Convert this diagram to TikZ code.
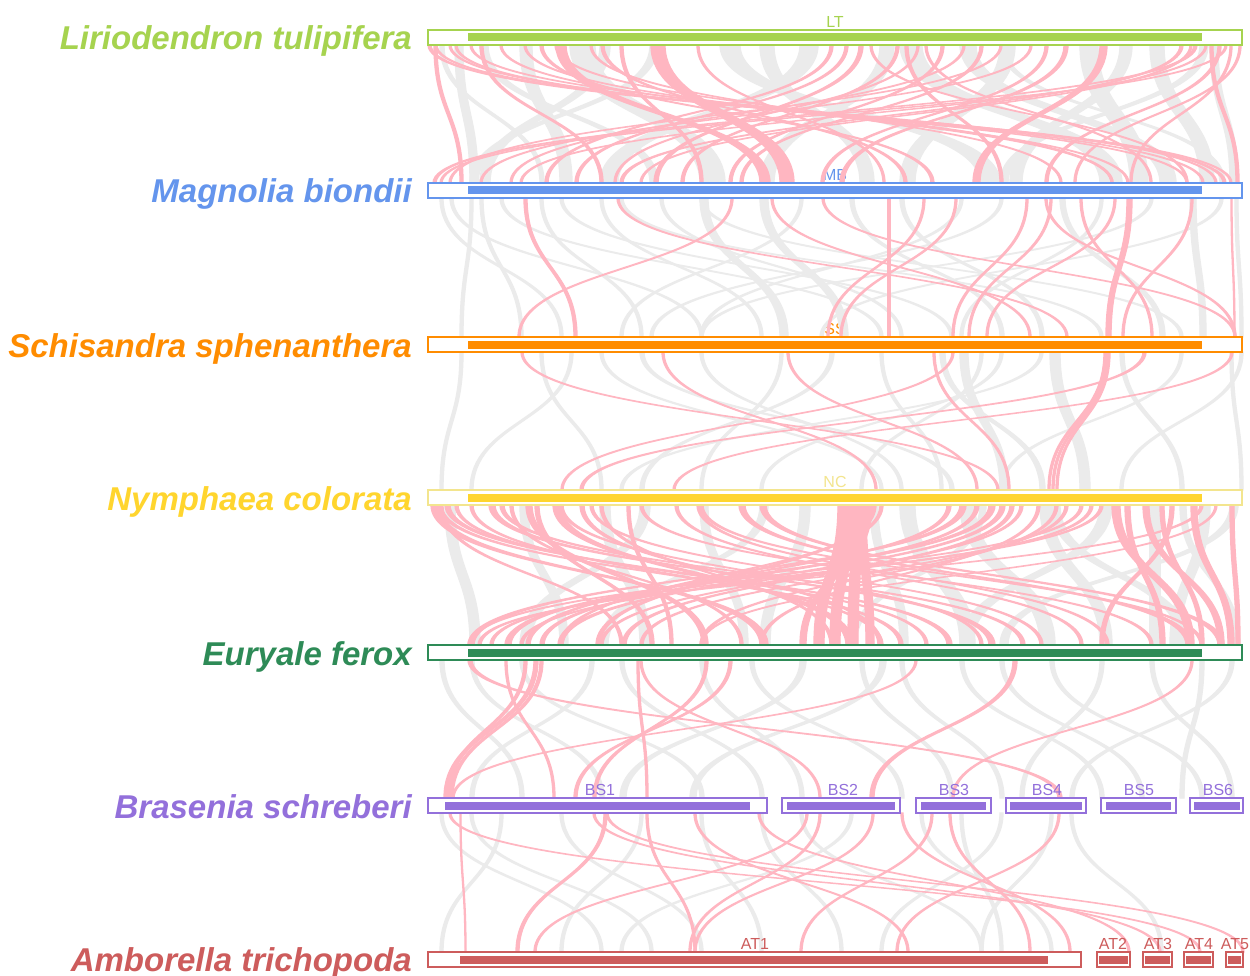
\documentclass[tikz,border=0pt]{standalone}
\usepackage{fontspec}
\setmainfont{Liberation Sans}
\definecolor{cLT}{HTML}{A6D34F}
\definecolor{cMB}{HTML}{6495ED}
\definecolor{cSS}{HTML}{FF8C00}
\definecolor{cNC}{HTML}{FFD52E}
\definecolor{cNCl}{HTML}{F3E58E}
\definecolor{cEF}{HTML}{2E8B57}
\definecolor{cBS}{HTML}{9370DB}
\definecolor{cAT}{HTML}{CD5C5C}
\definecolor{pinkl}{HTML}{FFB6C1}
\definecolor{grayl}{HTML}{EBEBEB}
\newcommand\rib[5]{%
  \pgfmathsetmacro\ym{(#1+#2)/2}%
  \filldraw (#3,#1) .. controls (#3,\ym) and (#4,\ym) .. (#4,#2) -- ({#4+#5},#2) .. controls ({#4+#5},\ym) and ({#3+#5},\ym) .. ({#3+#5},#1) -- cycle;}
\newcommand\seg[9]{%
  \node[segbox, draw=#2, minimum width={#4-#3}] (#1) at ({(#3+#4)/2},{#7+7.5}) {};
  \fill[#2] (#5,#7+3.5) rectangle (#6,#7+11.5);
  \node[seglab, text=#2] (#1lab) at (#9,#7-2.5) {#8};}
\tikzset{
  species/.style={anchor=base east, font=\fontsize{33}{33}\selectfont\bfseries\itshape, inner sep=0},
  seglab/.style={anchor=base, font=\fontsize{16}{16}\selectfont, inner sep=0},
  segbox/.style={fill=white, line width=1.1pt, minimum height=15pt, inner sep=0, outer sep=0},
  graylink/.style={fill=grayl, draw=grayl, line width=1.3pt},
  pinklink/.style={fill=pinkl, draw=pinkl, line width=1.3pt},
}
\begin{document}
\begin{tikzpicture}[x=1pt,y=-1pt]
\useasboundingbox[fill=white] (0,0) rectangle (1250,976);
% species names
\node[species, text=cLT] (nLT) at (412,49.5) {Liriodendron tulipifera};
\node[species, text=cMB] (nMB) at (412,203) {Magnolia biondii};
\node[species, text=cSS] (nSS) at (412,357) {Schisandra sphenanthera};
\node[species, text=cNC] (nNC) at (412,510) {Nymphaea colorata};
\node[species, text=cEF] (nEF) at (412,665) {Euryale ferox};
\node[species, text=cBS] (nBS) at (412,818) {Brasenia schreberi};
\node[species, text=cAT] (nAT) at (412,971) {Amborella trichopoda};
% segment labels (under links)
\node[seglab, text=cLT] (lLT) at (835,27.5) {LT};
\node[seglab, text=cMB] (lMB) at (835,180.5) {MB};
\node[seglab, text=cSS] (lSS) at (835,334.5) {SS};
\node[seglab, text=cNCl] (lNC) at (835,487.5) {NC};
% ---------- gray links ----------
\begin{scope}[graylink]
\foreach \a/\b/\w in {455/470/8, 480/650/8, 520/560/12, 570/700/25, 600/480/10, 650/470/8, 720/980/20, 760/860/14, 800/600/18, 880/760/14, 900/1100/22, 960/1160/16, 1000/900/15, 1080/1130/18, 1120/1010/12, 1150/1200/14, 1200/1000/8, 1210/1230/8, 440/540/4, 1000/1220/5}
  {\rib{45}{183}{\a}{\b}{\w}}
\foreach \a/\b/\w in {440/560/3, 450/700/3, 470/460/3, 500/880/3, 540/640/3, 560/950/3, 600/760/3, 620/1100/3, 700/780/8, 700/1180/3, 760/840/8, 800/620/3, 850/1000/4, 900/1040/4, 960/700/3, 1000/650/3, 1060/1160/5, 1100/960/3, 1150/700/3, 1190/1200/6, 1220/820/3, 1235/1240/3, 480/520/3, 660/900/3}
  {\rib{198}{337}{\a}{\b}{\w}}
\foreach \a/\b/\w in {460/440/3, 570/470/3, 600/880/3, 640/950/4, 700/900/3, 780/700/3, 830/640/4, 880/940/3, 940/1040/5, 960/1000/8, 980/860/3, 1000/760/3, 1040/620/3, 1120/1180/4, 1180/1000/3, 1230/1240/3, 1240/1120/3, 1050/1080/10, 540/600/3}
  {\rib{352}{490}{\a}{\b}{\w}}
\foreach \a/\b/\w in {445/470/10, 520/560/8, 600/640/10, 640/520/10, 700/740/8, 760/600/8, 800/760/10, 900/960/15, 960/1040/15, 1040/1100/12, 1100/960/12, 1150/1150/10, 1200/1170/10, 1180/1234/6, 1230/1000/8, 870/900/8, 980/850/6, 1050/1180/10}
  {\rib{505}{645}{\a}{\b}{\w}}
\foreach \a/\b/\w in {440/520/4, 470/600/4, 520/700/4, 590/470/4, 620/760/4, 700/800/4, 750/900/4, 800/620/6, 860/950/4, 880/690/6, 900/1000/4, 960/1100/4, 1000/1140/4, 1050/1200/4, 1100/1020/4, 1150/1230/4, 1200/1180/4, 1230/1070/4}
  {\rib{660}{798}{\a}{\b}{\w}}
\foreach \a/\b/\w in {440/600/3, 470/650/3, 500/440/3, 560/700/3, 640/560/3, 700/760/3, 760/840/3, 800/980/3, 850/620/3, 920/1050/3, 960/1000/3, 1000/880/3, 1050/980/3, 1070/1160/3}
  {\rib{813}{952}{\a}{\b}{\w}}
\end{scope}
% ---------- pink links ----------
\begin{scope}[pinklink]
\foreach \a/\b/\w in {428/1223/3, 435/1230/2, 449/1202/2, 455/1186/2, 500/1127/2, 524/1111/2, 540/931/3, 556/760/10, 601/904/3, 651/780/14, 697/883/2, 859/654/4, 896/681/3, 917/614/2, 941/729/3, 963/510/2, 1000/449/2, 1045/821/3, 1064/840/4, 1100/973/7, 1194/433/3, 1205/520/2, 1218/1045/3, 1239/1074/2, 1225/440/2, 870/1186/2, 555/1111/2, 470/1215/2, 480/600/3, 590/1060/2, 620/700/3, 830/545/3, 845/575/3, 905/1000/3, 925/1150/2, 980/740/3, 1030/480/2, 1180/620/3, 1190/640/2, 1210/1236/3, 1230/1130/2, 434/460/3}
  {\rib{45}{183}{\a}{\b}{\w}}
\foreach \a/\b/\w in {524/574/3, 617/1066/2, 731/518/2, 771/1029/2, 822/1234/2, 888/888/2, 923/827/2, 955/840/2, 1026/952/2, 1045/1234/2, 1050/968/2, 1080/1151/2, 1114/986/2, 1127/1106/5, 1191/1122/2, 1231/1234/1}
  {\rib{198}{337}{\a}{\b}{\w}}
\foreach \a/\b/\w in {521/997/2, 662/875/2, 787/976/2, 933/1008/2, 952/561/2, 1104/1048/2, 1106/1052/2, 1108/1056/2, 1143/580/3, 1231/673/2}
  {\rib{352}{490}{\a}{\b}{\w}}
\foreach \a/\b/\w in {431/760/8, 438/899/4, 445/947/5, 455/925/3, 489/989/6, 500/1021/4, 526/702/6, 535/650/4, 553/846/8, 580/878/4, 600/830/3, 627/670/3, 675/1080/3, 697/1106/3, 739/1186/6, 760/1218/6, 838/814/10, 845/830/10, 852/848/10, 858/866/8, 866/800/6, 872/596/4, 880/560/3, 947/526/4, 960/468/6, 975/540/4, 989/505/6, 1000/558/5, 1010/622/4, 1037/760/3, 1055/700/3, 1080/468/3, 1112/1186/8, 1125/1160/5, 1143/1218/6, 1160/1200/4, 1191/1228/6, 1200/478/3, 1230/1236/4, 440/620/3, 470/880/3, 510/740/3, 560/980/3, 590/1040/3, 640/1150/3, 700/1200/3, 1020/600/3, 1065/640/3, 1090/520/3, 1100/490/3, 1170/1100/4, 1215/700/2}
  {\rib{505}{645}{\a}{\b}{\w}}
\foreach \a/\b/\w in {468/1058/4, 505/553/2, 524/447/3, 534/444/4, 540/450/3, 637/646/2, 640/819/2, 705/593/3, 729/574/3, 915/452/2, 1013/870/4, 1191/952/2}
  {\rib{660}{798}{\a}{\b}{\w}}
\foreach \a/\b/\w in {449/1199/2, 460/465/1, 593/1159/2, 604/516/3, 606/1242/2, 646/694/2, 694/907/2, 758/1128/2, 806/534/2, 819/689/2, 872/694/2, 901/1069/2, 931/800/2, 949/1029/2, 1058/896/2}
  {\rib{813}{952}{\a}{\b}{\w}}
\end{scope}
% ---------- chromosome bars ----------
\node[segbox, draw=cLT, minimum width=814pt] (bLT) at (835,37.5) {};
\fill[cLT] (468,33.5) rectangle (1202,41.5);
\node[segbox, draw=cMB, minimum width=814pt] (bMB) at (835,190.5) {};
\fill[cMB] (468,186.5) rectangle (1202,194.5);
\node[segbox, draw=cSS, minimum width=814pt] (bSS) at (835,344.5) {};
\fill[cSS] (468,340.5) rectangle (1202,348.5);
\node[segbox, draw=cNCl, minimum width=814pt] (bNC) at (835,497.5) {};
\fill[cNC] (468,493.5) rectangle (1202,501.5);
\node[segbox, draw=cEF, minimum width=814pt] (bEF) at (835,652.5) {};
\fill[cEF] (468,648.5) rectangle (1202,656.5);
% Brasenia segments
\seg{bs1}{cBS}{428}{767}{445}{750}{798}{BS1}{600}
\seg{bs2}{cBS}{782}{900}{787}{895}{798}{BS2}{843}
\seg{bs3}{cBS}{916}{991}{921}{986}{798}{BS3}{954}
\seg{bs4}{cBS}{1006}{1086}{1010}{1082}{798}{BS4}{1047}
\seg{bs5}{cBS}{1101}{1176}{1106}{1171}{798}{BS5}{1139}
\seg{bs6}{cBS}{1190}{1243}{1194}{1240}{798}{BS6}{1218}
% Amborella segments
\seg{at1}{cAT}{428}{1081}{460}{1048}{952}{AT1}{755}
\seg{at2}{cAT}{1097}{1130}{1099}{1128}{952}{AT2}{1113}
\seg{at3}{cAT}{1143}{1172}{1145}{1170}{952}{AT3}{1158}
\seg{at4}{cAT}{1184}{1213}{1186}{1211}{952}{AT4}{1199}
\seg{at5}{cAT}{1226}{1243}{1228}{1241}{952}{AT5}{1235}
\end{tikzpicture}
\end{document}
